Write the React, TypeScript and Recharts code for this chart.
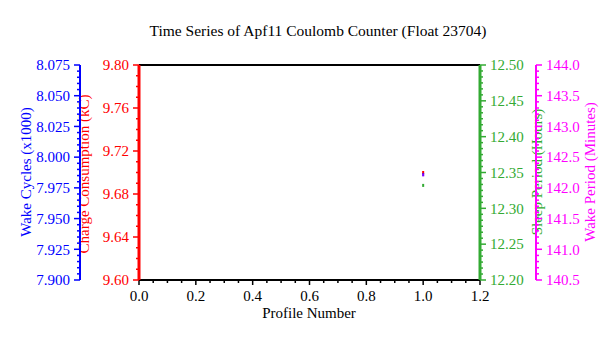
import { ScatterChart, Scatter, XAxis, YAxis } from 'recharts'

const profileNumbers = [1]
const wakeCycles = [7.9857] // x1000
const chargeConsumption = [9.7] // kC
const sleepPeriod = [12.332] // hours
const wakePeriod = [142.21] // minutes

const xMajor = [0, 0.2, 0.4, 0.6, 0.8, 1.0, 1.2]
const wakeCyclesMajor = [7.9, 7.925, 7.95, 7.975, 8.0, 8.025, 8.05, 8.075]
const chargeMajor = [9.6, 9.64, 9.68, 9.72, 9.76, 9.8]
const sleepMajor = [12.2, 12.25, 12.3, 12.35, 12.4, 12.45, 12.5]
const wakePeriodMajor = [140.5, 141.0, 141.5, 142.0, 142.5, 143.0, 143.5, 144.0]

const FONT = '"Liberation Serif", "Times New Roman", serif'
const BLUE = '#0000ff'
const RED = '#ff0000'
const GREEN = '#33aa33'
const MAGENTA = '#ff00ff'

// minor ticks between the first and last major tick
function withMinors(major: number[], step: number) {
  const out: number[] = []
  const lo = major[0]
  const hi = major[major.length - 1]
  const n = Math.round((hi - lo) / step)
  for (let i = 0; i <= n; i++) out.push(Math.round((lo + i * step) * 1e6) / 1e6)
  return out
}

const isMajor = (major: number[], v: number) => major.some((m) => Math.abs(m - v) < 1e-7)

function yTick(color: string, side: 'left' | 'right', major: number[], digits: number) {
  return (props: any) => {
    const { x, y, payload } = props
    const v = payload.value
    const big = isMajor(major, v)
    const len = big ? 6 : 3
    const dir = side === 'left' ? -1 : 1
    return (
      <g>
        <line x1={x} y1={y} x2={x + dir * len} y2={y} stroke={color} strokeWidth={1.5} />
        {big && (
          <text
            x={x + dir * 10}
            y={y}
            dy="0.35em"
            textAnchor={side === 'left' ? 'end' : 'start'}
            fill={color}
            fontSize={15}
            fontFamily={FONT}
          >
            {v.toFixed(digits)}
          </text>
        )}
      </g>
    )
  }
}

function xTick(side: 'top' | 'bottom') {
  return (props: any) => {
    const { x, y, payload } = props
    const v = payload.value
    const big = isMajor(xMajor, v)
    const len = big ? 5 : 3
    const dir = side === 'top' ? -1 : 1
    return (
      <g>
        <line x1={x} y1={y} x2={x} y2={y + dir * len} stroke="#000" strokeWidth={1.5} />
        {big && side === 'bottom' && (
          <text x={x} y={y + 21} textAnchor="middle" fill="#000" fontSize={15} fontFamily={FONT}>
            {v.toFixed(1)}
          </text>
        )}
      </g>
    )
  }
}

const axisTitle = (text: string, x: number, y: number, color: string, rotate: boolean, size = 15) => () => (
  <text
    x={x}
    y={y}
    textAnchor="middle"
    dominantBaseline="central"
    fill={color}
    fontSize={size}
    fontFamily={FONT}
    transform={rotate ? `rotate(-90, ${x}, ${y})` : undefined}
  >
    {text}
  </text>
)

const series = (values: number[]) => profileNumbers.map((p, i) => ({ x: p, y: values[i] }))

const dot = (color: string, opacity = 1) => (props: any) => (
  <rect x={props.cx - 1} y={props.cy - 1.5} width={2} height={3} fill={color} fillOpacity={opacity} />
)

export default function App() {
  return (
    <div style={{ position: 'absolute', left: 0, top: 0, background: '#fff' }}>
      <ScatterChart width={614} height={338} margin={{ top: 60, right: 0, bottom: 18, left: 8 }}>
        <XAxis
          xAxisId="bottom"
          dataKey="x"
          type="number"
          domain={[0, 1.2]}
          ticks={withMinors(xMajor, 0.05)}
          interval={0}
          tickSize={0}
          tickMargin={0}
          tickLine={false}
          tick={xTick('bottom')}
          axisLine={{ stroke: '#000', strokeWidth: 2 }}
          height={40}
          label={axisTitle('Profile Number', 309, 313, '#000', false)}
        />
        <XAxis
          xAxisId="top"
          orientation="top"
          dataKey="x"
          type="number"
          domain={[0, 1.2]}
          ticks={withMinors(xMajor, 0.05)}
          interval={0}
          tickSize={0}
          tickMargin={0}
          tickLine={false}
          tick={xTick('top')}
          axisLine={{ stroke: '#000', strokeWidth: 2 }}
          height={5}
          label={axisTitle('Time Series of Apf11 Coulomb Counter (Float 23704)', 318, 30, '#000', false, 15.5)}
        />
        <YAxis
          yAxisId="charge"
          orientation="left"
          dataKey="y"
          type="number"
          domain={[9.6, 9.8]}
          ticks={withMinors(chargeMajor, 0.01)}
          interval={0}
          tickSize={0}
          tickMargin={0}
          tickLine={false}
          tick={yTick(RED, 'left', chargeMajor, 2)}
          axisLine={{ stroke: RED, strokeWidth: 3 }}
          width={59}
          label={axisTitle('Charge Consumption (kC)', 84, 174, RED, true)}
        />
        <YAxis
          yAxisId="wake"
          orientation="left"
          dataKey="y"
          type="number"
          domain={[7.9, 8.075]}
          ticks={withMinors(wakeCyclesMajor, 0.005)}
          interval={0}
          tickSize={0}
          tickMargin={0}
          tickLine={false}
          tick={yTick(BLUE, 'left', wakeCyclesMajor, 3)}
          axisLine={{ stroke: BLUE, strokeWidth: 2 }}
          width={72}
          label={axisTitle('Wake Cycles (x1000)', 26, 172, BLUE, true)}
        />
        <YAxis
          yAxisId="sleep"
          orientation="right"
          dataKey="y"
          type="number"
          domain={[12.2, 12.5]}
          ticks={withMinors(sleepMajor, 0.05 / 6)}
          interval={0}
          tickSize={0}
          tickMargin={0}
          tickLine={false}
          tick={yTick(GREEN, 'right', sleepMajor, 2)}
          axisLine={{ stroke: GREEN, strokeWidth: 3 }}
          width={56}
          label={axisTitle('Sleep Period (Hours)', 537, 172, GREEN, true)}
        />
        <YAxis
          yAxisId="wakePeriod"
          orientation="right"
          dataKey="y"
          type="number"
          domain={[140.5, 144.0]}
          ticks={withMinors(wakePeriodMajor, 0.1)}
          interval={0}
          tickSize={0}
          tickMargin={0}
          tickLine={false}
          tick={yTick(MAGENTA, 'right', wakePeriodMajor, 1)}
          axisLine={{ stroke: MAGENTA, strokeWidth: 2 }}
          width={78}
          label={axisTitle('Wake Period (Minutes)', 590, 172, MAGENTA, true)}
        />
        <Scatter xAxisId="bottom" yAxisId="charge" data={series(chargeConsumption)} shape={dot(RED)} isAnimationActive={false} />
        <Scatter xAxisId="bottom" yAxisId="sleep" data={series(sleepPeriod)} shape={dot(GREEN)} isAnimationActive={false} />
        <Scatter xAxisId="bottom" yAxisId="wake" data={series(wakeCycles)} shape={dot(BLUE)} isAnimationActive={false} />
        <Scatter xAxisId="bottom" yAxisId="wakePeriod" data={series(wakePeriod)} shape={dot(MAGENTA, 0.5)} isAnimationActive={false} />
      </ScatterChart>
    </div>
  )
}
